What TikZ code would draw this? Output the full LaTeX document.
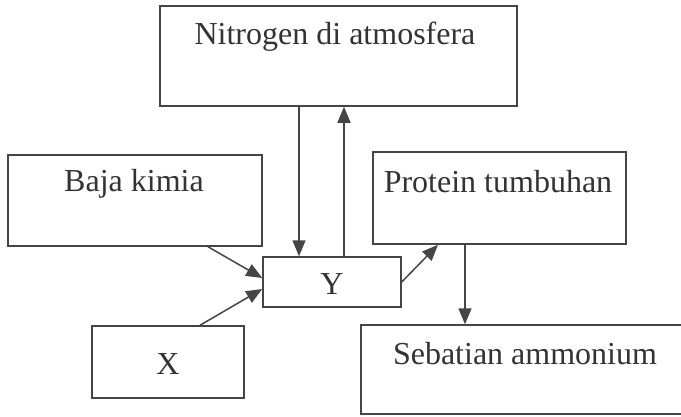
\documentclass[tikz,border=0pt]{standalone}
\usepackage{fontspec}
\setmainfont{Liberation Serif}
\usetikzlibrary{arrows.meta}
\definecolor{ink}{HTML}{454545}
\definecolor{txt}{HTML}{333333}
\begin{document}
\begin{tikzpicture}[x=1pt,y=-1pt,
  box/.style={draw=ink,line width=1.5pt,inner sep=0pt,rectangle},
  lbl/.style={text=txt,font=\fontsize{32}{36}\selectfont,inner sep=0pt},
  conn/.style={draw=ink,line width=1.5pt,-{Triangle[length=16pt,width=13pt]}}]
\path[use as bounding box,clip] (0,0) rectangle (681,416);
\fill[white] (0,0) rectangle (681,416);
\node[box,minimum width=357pt,minimum height=100pt] (nit) at (338.5,56) {};
\node[box,minimum width=254pt,minimum height=91pt] (baja) at (135,200.5) {};
\node[box,minimum width=253pt,minimum height=92pt] (prot) at (499.5,198) {};
\node[box,minimum width=138pt,minimum height=50pt] (Y) at (332,282) {};
\node[box,minimum width=152pt,minimum height=72pt] (X) at (168,362) {};
\node[box,minimum width=329pt,minimum height=89pt] (seb) at (525.5,369.5) {};
\node[lbl] (tnit) at (335,37) {Nitrogen di atmosfera};
\node[lbl] (tbaja) at (134,184) {Baja kimia};
\node[lbl] (tprot) at (498,182) {Protein tumbuhan};
\node[lbl] (tY) at (332,284) {Y};
\node[lbl] (tX) at (168,364) {X};
\node[lbl] (tseb) at (525,354) {Sebatian ammonium};
\draw[conn] ([xshift=-39.5pt]nit.south) -- ([xshift=-33pt]Y.north);
\draw[conn] ([xshift=12pt]Y.north) -- ([xshift=5.5pt]nit.south);
\draw[conn] ([xshift=73pt]baja.south) -- ([yshift=4pt]Y.west);
\draw[conn] ([xshift=32pt]X.north) -- ([yshift=-7pt]Y.west);
\draw[conn] (Y.east) -- ([xshift=-61.5pt]prot.south);
\draw[conn] ([xshift=-34.5pt]prot.south) -- ([xshift=-60.5pt]seb.north);
\end{tikzpicture}
\end{document}
